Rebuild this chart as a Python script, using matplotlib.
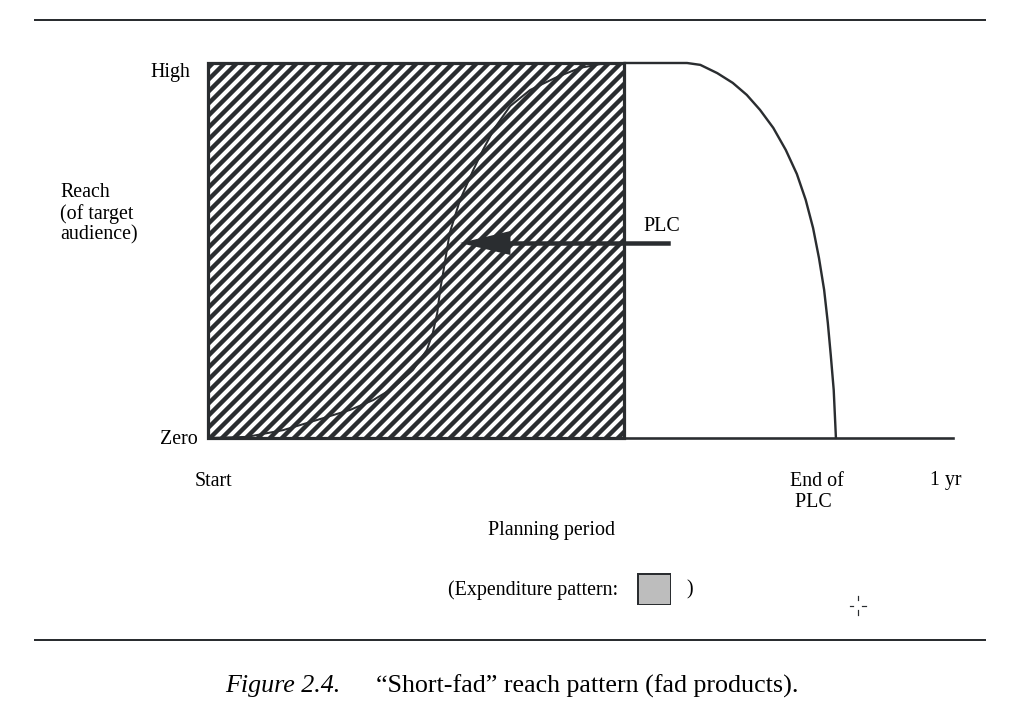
import matplotlib
matplotlib.use("Agg")
import matplotlib.pyplot as plt
from matplotlib.patches import Rectangle
from matplotlib.lines import Line2D

# planning period: 0 = start, 1 = one year; reach: 0 = zero, 1 = high
spend_end = 0.564
baseline_end = 1.011

# reach curve for the fad product while advertising runs
fad_x = [0, 0.053, 0.102, 0.148, 0.193, 0.224, 0.251, 0.278, 0.297, 0.305,
         0.311, 0.315, 0.319, 0.328, 0.342, 0.36, 0.373, 0.389, 0.41, 0.437,
         0.474, 0.505, 0.532, 0.564]
fad_y = [0, 0.003, 0.021, 0.048, 0.075, 0.101, 0.133, 0.181, 0.235, 0.28,
         0.333, 0.395, 0.44, 0.547, 0.635, 0.715, 0.768, 0.827, 0.885, 0.928,
         0.963, 0.987, 0.997, 1.0]

# product life cycle: plateau, then decline to zero
plc_x = [0.564, 0.65, 0.668, 0.691, 0.712, 0.731, 0.749, 0.767, 0.784, 0.799,
         0.811, 0.821, 0.829, 0.836, 0.841, 0.845, 0.849, 0.852]
plc_y = [1.0, 1.0, 0.995, 0.973, 0.947, 0.915, 0.875, 0.827, 0.768, 0.704,
         0.635, 0.56, 0.48, 0.395, 0.307, 0.221, 0.128, 0.0]

arrow_y = 0.52
arrow_from = 0.624
arrow_to = 0.342

W, H = 1014, 709
plt.rcParams['font.family'] = ['Liberation Serif', 'DejaVu Serif']
plt.rcParams['hatch.linewidth'] = 4.4

ink = '#2a2d30'
fig = plt.figure(figsize=(W / 72, H / 72), dpi=72)
fig.patch.set_facecolor('white')


def fx(px):
    return px / W


def fy(py):
    return 1 - py / H


ax = fig.add_axes([fx(208), fy(438), 737 / W, 375 / H])
ax.set_xlim(0, 1)
ax.set_ylim(0, 1)
ax.axis('off')

# expenditure block
ax.add_patch(Rectangle((0, 0), spend_end, 1, facecolor='white', edgecolor=ink,
                       hatch='//', linewidth=0, clip_on=False))
ax.add_patch(Rectangle((0, 0), spend_end, 1, fill=False, edgecolor=ink,
                       linewidth=3.2, clip_on=False, zorder=3))

ax.plot([0, baseline_end], [0, 0], color=ink, lw=2.6, clip_on=False, zorder=4)
ax.plot(fad_x, fad_y, color=ink, lw=2, clip_on=False, zorder=4,
        solid_capstyle='round')
ax.plot(plc_x, plc_y, color=ink, lw=2.4, clip_on=False, zorder=4,
        solid_capstyle='round', solid_joinstyle='round')

ax.plot([arrow_from, arrow_to + 0.05], [arrow_y, arrow_y], color=ink, lw=4.5,
        clip_on=False, zorder=5)
ax.annotate('', xy=(arrow_to, arrow_y), xytext=(arrow_to + 0.07, arrow_y),
            arrowprops=dict(arrowstyle='-|>,head_length=4.2,head_width=1.0',
                            mutation_scale=12, color=ink, lw=0,
                            shrinkA=0, shrinkB=0),
            zorder=6)

# text
fs = 20
fig.text(fx(190), fy(72), 'High', ha='right', va='center', fontsize=fs)
fig.text(fx(198), fy(440), 'Zero', ha='right', va='center', fontsize=fs)
fig.text(fx(60), fy(214), 'Reach\n(of target\naudience)', ha='left',
         va='center', fontsize=fs, linespacing=1.12)
fig.text(fx(195), fy(481), 'Start', ha='left', va='center', fontsize=fs)
fig.text(fx(790), fy(492), 'End of\n PLC', ha='left', va='center',
         fontsize=fs, linespacing=1.1)
fig.text(fx(930), fy(481), '1 yr', ha='left', va='center', fontsize=fs)
fig.text(fx(552), fy(530), 'Planning period', ha='center', va='center',
         fontsize=fs)
fig.text(fx(643), fy(227), 'PLC', ha='left', va='center', fontsize=fs)

fig.text(fx(618), fy(590), '(Expenditure pattern:', ha='right', va='center',
         fontsize=fs)
fig.text(fx(686), fy(590), ')', ha='left', va='center', fontsize=fs)
key = fig.add_axes([fx(637), fy(605), 34 / W, 32 / H])
key.set_xlim(0, 1)
key.set_ylim(0, 1)
key.axis('off')
key.add_patch(Rectangle((0, 0), 1, 1, facecolor='#bdbdbd', edgecolor=ink,
                        linewidth=3))

# scanner cursor mark
for seg in [((850, 853), (606, 606)), ((862, 866), (606, 606)),
            ((858, 858), (596, 600)), ((858, 858), (610, 615))]:
    fig.add_artist(Line2D([fx(seg[0][0]), fx(seg[0][1])],
                          [fy(seg[1][0]), fy(seg[1][1])], color=ink, lw=1.2))

# page rules and caption
fig.add_artist(Line2D([fx(35), fx(985)], [fy(20), fy(20)], color=ink, lw=2))
fig.add_artist(Line2D([fx(35), fx(985)], [fy(640), fy(640)], color=ink, lw=2))
fig.text(fx(225), fy(686), 'Figure 2.4.', ha='left', va='center',
         fontsize=26, style='italic')
fig.text(fx(376), fy(686), '\u201cShort-fad\u201d reach pattern (fad products).',
         ha='left', va='center', fontsize=26)

fig.savefig('out.png', dpi=72, facecolor='white')
